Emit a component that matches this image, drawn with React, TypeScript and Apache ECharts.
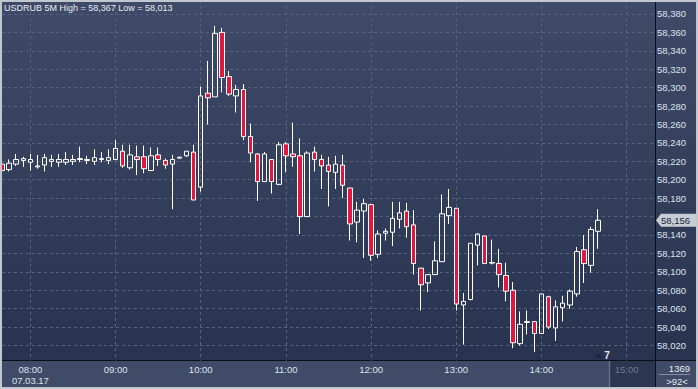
import React, { useEffect, useRef } from 'react';
import * as echarts from 'echarts';

const FONT = '"Liberation Sans", Arial, sans-serif';
const SYMBOL = 'USDRUB 5M';
const DATE_LABEL = '07.03.17';
const BAR_COUNT = '1369';
const VISIBLE_BARS = '>92<';
const TIMER_LABEL = '7';

// 5-minute slots from 07:40 to 15:20 (93 slots, 92 intervals visible)
const START_HOUR = 7;
const START_MINUTE = 40;
const SLOT_COUNT = 93;
const categories: string[] = Array.from({ length: SLOT_COUNT }, (_, i) => {
  const m = START_HOUR * 60 + START_MINUTE + 5 * i;
  return `${String(Math.floor(m / 60)).padStart(2, '0')}:${String(m % 60).padStart(2, '0')}`;
});

// [open, close, low, high]
const ohlc: number[][] = [
  [58.217, 58.210, 58.207, 58.219],
  [58.211, 58.218, 58.209, 58.222],
  [58.217, 58.222, 58.215, 58.228],
  [58.221, 58.223, 58.214, 58.225],
  [58.219, 58.222, 58.210, 58.228],
  [58.214, 58.215, 58.212, 58.227],
  [58.216, 58.224, 58.209, 58.228],
  [58.220, 58.222, 58.214, 58.227],
  [58.219, 58.222, 58.214, 58.228],
  [58.219, 58.222, 58.216, 58.230],
  [58.220, 58.222, 58.216, 58.227],
  [58.222, 58.223, 58.219, 58.236],
  [58.221, 58.222, 58.217, 58.226],
  [58.220, 58.224, 58.216, 58.233],
  [58.222, 58.223, 58.219, 58.230],
  [58.221, 58.224, 58.217, 58.233],
  [58.222, 58.234, 58.221, 58.243],
  [58.231, 58.215, 58.213, 58.238],
  [58.213, 58.227, 58.211, 58.238],
  [58.225, 58.222, 58.205, 58.237],
  [58.225, 58.212, 58.207, 58.237],
  [58.210, 58.226, 58.210, 58.235],
  [58.227, 58.222, 58.215, 58.235],
  [58.221, 58.216, 58.212, 58.223],
  [58.217, 58.222, 58.168, 58.227],
  [58.2235, 58.2245, 58.223, 58.225],
  [58.226, 58.231, 58.225, 58.231],
  [58.230, 58.178, 58.178, 58.238],
  [58.192, 58.291, 58.187, 58.301],
  [58.294, 58.289, 58.260, 58.329],
  [58.290, 58.359, 58.290, 58.367],
  [58.360, 58.311, 58.295, 58.365],
  [58.312, 58.293, 58.291, 58.318],
  [58.291, 58.298, 58.273, 58.303],
  [58.298, 58.247, 58.243, 58.304],
  [58.247, 58.229, 58.219, 58.261],
  [58.228, 58.198, 58.177, 58.229],
  [58.198, 58.228, 58.198, 58.230],
  [58.222, 58.198, 58.185, 58.222],
  [58.195, 58.238, 58.194, 58.241],
  [58.239, 58.226, 58.208, 58.241],
  [58.228, 58.225, 58.214, 58.262],
  [58.226, 58.160, 58.141, 58.245],
  [58.160, 58.229, 58.160, 58.231],
  [58.230, 58.222, 58.209, 58.236],
  [58.222, 58.215, 58.190, 58.227],
  [58.216, 58.209, 58.171, 58.225],
  [58.208, 58.217, 58.190, 58.226],
  [58.216, 58.194, 58.180, 58.227],
  [58.191, 58.152, 58.134, 58.191],
  [58.154, 58.167, 58.132, 58.176],
  [58.166, 58.174, 58.115, 58.179],
  [58.173, 58.118, 58.112, 58.174],
  [58.119, 58.141, 58.115, 58.145],
  [58.142, 58.144, 58.134, 58.147],
  [58.143, 58.158, 58.128, 58.176],
  [58.157, 58.164, 58.147, 58.176],
  [58.166, 58.149, 58.137, 58.175],
  [58.151, 58.109, 58.097, 58.167],
  [58.104, 58.086, 58.058, 58.104],
  [58.088, 58.097, 58.078, 58.097],
  [58.097, 58.112, 58.097, 58.133],
  [58.111, 58.163, 58.111, 58.184],
  [58.161, 58.170, 58.152, 58.190],
  [58.169, 58.065, 58.058, 58.169],
  [58.064, 58.068, 58.021, 58.077],
  [58.070, 58.131, 58.069, 58.131],
  [58.129, 58.141, 58.107, 58.142],
  [58.139, 58.109, 58.109, 58.139],
  [58.1095, 58.110, 58.108, 58.135],
  [58.109, 58.097, 58.083, 58.125],
  [58.096, 58.079, 58.068, 58.110],
  [58.080, 58.023, 58.017, 58.089],
  [58.022, 58.043, 58.020, 58.057],
  [58.045, 58.046, 58.032, 58.058],
  [58.046, 58.033, 58.013, 58.046],
  [58.033, 58.076, 58.033, 58.076],
  [58.073, 58.040, 58.038, 58.074],
  [58.039, 58.062, 58.025, 58.069],
  [58.061, 58.066, 58.046, 58.074],
  [58.064, 58.079, 58.060, 58.081],
  [58.076, 58.122, 58.073, 58.127],
  [58.124, 58.109, 58.088, 58.140],
  [58.107, 58.146, 58.099, 58.149],
  [58.144, 58.156, 58.125, 58.168],
];

const Y_MIN = 58.00371;
const Y_MAX = 58.3952;
const Y_STEP = 0.02;

const LABEL_COLOR = '#dde3ee';
const GRID_COLOR = '#56627e';
const BEAR_COLOR = '#e2173d';

const fmt = (v: number) => v.toFixed(3).replace('.', ',');

export default function App() {
  const ref = useRef<HTMLDivElement>(null);

  useEffect(() => {
    if (!ref.current) return;
    const chart = echarts.init(ref.current, null, { renderer: 'svg' });
    const isHour = (i: number) => i % 12 === 4;
    const lastIdx = ohlc.length - 1;
    const lastClose = ohlc[lastIdx][1];

    chart.setOption({
      animation: false,
      backgroundColor: '#3f4b67',
      grid: { left: 2, right: 43, top: 0, bottom: 28.5, show: false },
      xAxis: [
        {
          type: 'category',
          data: categories,
          boundaryGap: false,
          axisLine: { show: false },
          axisTick: { show: false },
          axisLabel: {
            interval: (i: number) => isHour(i),
            margin: 3,
            color: LABEL_COLOR,
            fontFamily: FONT,
            fontSize: 9.5,
            lineHeight: 11,
            formatter: (v: string) =>
              v === '08:00' ? `${v}\n${DATE_LABEL}` : v === '15:00' ? `{dim|${v}}` : v,
            rich: { dim: { color: '#6f7a91', fontFamily: FONT, fontSize: 9.5 } },
          },
          splitLine: {
            show: true,
            interval: (i: number) => isHour(i),
            lineStyle: { color: GRID_COLOR, type: [3, 3], width: 1 },
          },
        },
      ],
      yAxis: [
        {
          type: 'value',
          position: 'right',
          min: Y_MIN,
          max: Y_MAX,
          splitNumber: 20,
          minInterval: Y_STEP,
          maxInterval: Y_STEP,
          axisLine: { show: false },
          axisTick: { show: false },
          axisLabel: {
            margin: 2,
            color: LABEL_COLOR,
            fontFamily: FONT,
            fontSize: 9.5,
            showMinLabel: false,
            showMaxLabel: false,
            // the current-price tag covers the tick label next to it
            formatter: (v: number) => (Math.abs(v - lastClose) < 0.008 ? '' : fmt(v)),
          },
          splitLine: {
            show: true,
            showMinLine: false,
            showMaxLine: false,
            lineStyle: { color: GRID_COLOR, type: [3, 3], width: 1 },
          },
        },
      ],
      series: [
        {
          type: 'candlestick',
          data: ohlc,
          barWidth: 5,
          clip: true,
          itemStyle: {
            color: 'transparent',
            color0: BEAR_COLOR,
            borderColor: '#ffffff',
            borderColor0: '#ffffff',
            borderWidth: 1,
          },
        },
      ],
    });

    const highs = ohlc.map((d) => d[3]);
    const lows = ohlc.map((d) => d[2]);
    const title = `${SYMBOL} High = ${fmt(Math.max(...highs))} Low = ${fmt(Math.min(...lows))}`;
    const py = chart.convertToPixel({ yAxisIndex: 0 }, lastClose) as number;
    const px = chart.convertToPixel({ xAxisIndex: 0 }, categories[lastIdx]) as number;

    chart.setOption({
      graphic: {
        elements: [
          {
            type: 'rect', id: 'bg', z: -10, silent: true,
            shape: { x: 2, y: 2, width: 694, height: 358.5 },
            style: {
              fill: new echarts.graphic.LinearGradient(0, 0, 0, 1, [
                { offset: 0, color: '#3e4a67' },
                { offset: 1, color: '#28334f' },
              ]),
            },
          },
          {
            type: 'rect', id: 'nowBox', z: -5, silent: true,
            shape: { x: 609, y: 361, width: 46, height: 26 },
            style: { fill: '#2b3651' },
          },
          {
            type: 'line', id: 'nowEdge', z: -5, silent: true,
            shape: { x1: 609.5, y1: 361, x2: 609.5, y2: 387 },
            style: { stroke: '#66708a', lineWidth: 1.5 },
          },
          {
            type: 'line', id: 'hSep', z: -4, silent: true,
            shape: { x1: 0, y1: 360.5, x2: 698, y2: 360.5 },
            style: { stroke: '#0a0e16', lineWidth: 1 },
          },
          {
            type: 'line', id: 'vSep', z: -4, silent: true,
            shape: { x1: 655.5, y1: 0, x2: 655.5, y2: 389 },
            style: { stroke: '#0a0e16', lineWidth: 1 },
          },
          {
            type: 'text', id: 'title', z: 50, x: 4, y: 8, silent: true,
            style: { text: title, fill: '#e8ecf3', font: `9px ${FONT}`, verticalAlign: 'middle' },
          },
          {
            type: 'polygon', id: 'priceBox', z: 50, silent: true,
            shape: {
              points: [
                [656, py], [661, py - 6.5], [696, py - 6.5], [696, py + 6.5], [661, py + 6.5],
              ],
            },
            style: { fill: '#c8ccd5' },
          },
          {
            type: 'text', id: 'priceText', z: 51, x: 661, y: py, silent: true,
            style: { text: fmt(lastClose), fill: '#1b2540', font: `9.5px ${FONT}`, verticalAlign: 'middle' },
          },
          {
            type: 'polygon', id: 'timerTri', z: 50, silent: true,
            shape: { points: [[px - 4, 357.5], [px, 353.5], [px + 4, 357.5]] },
            style: { fill: '#1d2538' },
          },
          {
            type: 'text', id: 'timerText', z: 50, x: px + 6, y: 355, silent: true,
            style: { text: TIMER_LABEL, fill: '#e6ebf3', font: `bold 10px ${FONT}`, verticalAlign: 'middle' },
          },
          {
            type: 'text', id: 'barCount', z: 50, x: 690, y: 368, silent: true,
            style: { text: BAR_COUNT, fill: '#e6ebf3', font: `9.5px ${FONT}`, align: 'right', verticalAlign: 'middle' },
          },
          {
            type: 'line', id: 'barLine', z: 50, silent: true,
            shape: { x1: 659, y1: 374.5, x2: 690, y2: 374.5 },
            style: { stroke: '#858ea0', lineWidth: 1 },
          },
          {
            type: 'text', id: 'visBars', z: 50, x: 677, y: 381, silent: true,
            style: { text: VISIBLE_BARS, fill: '#e6ebf3', font: `9.5px ${FONT}`, align: 'center', verticalAlign: 'middle' },
          },
          {
            type: 'rect', id: 'frame', z: 100, silent: true,
            shape: { x: 1, y: 1, width: 696, height: 387 },
            style: { fill: 'none', stroke: '#c2c6ce', lineWidth: 2 },
          },
        ],
      },
    });

    return () => chart.dispose();
  }, []);

  return (
    <div
      ref={ref}
      style={{ position: 'absolute', left: 0, top: 0, width: 698, height: 389 }}
    />
  );
}
